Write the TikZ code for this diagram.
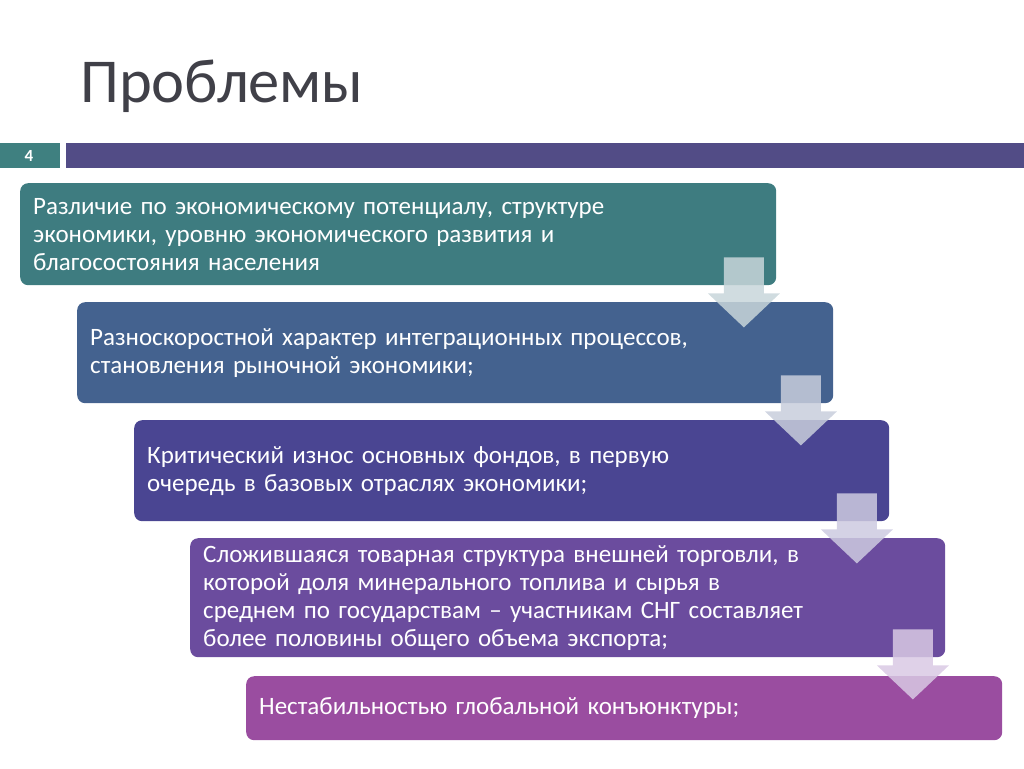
\documentclass[tikz,border=0pt]{standalone}
\usepackage{fontspec}
\setmainfont{Carlito}
\usepackage{tikz}
\usetikzlibrary{positioning}

\definecolor{titlegrey}{HTML}{404048}
\definecolor{barteal}{HTML}{3F8080}
\definecolor{barpurple}{HTML}{524C86}
\definecolor{boxa}{HTML}{3E7C80}
\definecolor{boxb}{HTML}{44628F}
\definecolor{boxc}{HTML}{4A4592}
\definecolor{boxd}{HTML}{6B4C9E}
\definecolor{boxe}{HTML}{9A4DA0}
\definecolor{arra}{HTML}{C8D6DA}
\definecolor{arrb}{HTML}{C8CEDC}
\definecolor{arrc}{HTML}{CDCAE0}
\definecolor{arrd}{HTML}{D9C9E4}

\tikzset{
  stepbox/.style={anchor=north west, rounded corners=8pt, inner xsep=13pt,
    inner ysep=0pt, text=white, align=left, font=\fontsize{25}{28}\selectfont,
    minimum width=#1, text width=#1-26pt},
  downarrow/.style={fill=#1, fill opacity=0.85, draw=none}
}

\begin{document}
\begin{tikzpicture}[x=1pt,y=-1pt]

\useasboundingbox (0,0) rectangle (1024,768);

\node[anchor=base west, text=titlegrey, font=\fontsize{62.5}{64}\selectfont,
  inner sep=0pt] (title) at (80,102) {Проблемы};

\fill[barteal] (0,143) rectangle (60,168);
\node[text=white, font=\bfseries\fontsize{17}{18}\selectfont] (num) at (29,155.5) {4};
\fill[barpurple] (66,143) rectangle (1024,168);

\node[stepbox=756pt, fill=boxa, minimum height=102pt] (b1) at (20,183)
  {Различие по экономическому потенциалу, структуре\\экономики, уровню экономического развития и\\благосостояния населения};
\node[stepbox=756pt, fill=boxb, minimum height=101pt] (b2) at (77,302)
  {Разноскоростной характер интеграционных процессов,\\становления рыночной экономики;};
\node[stepbox=755pt, fill=boxc, minimum height=101pt] (b3) at (134,420)
  {Критический износ основных фондов, в первую\\очередь в базовых отраслях экономики;};
\node[stepbox=755pt, fill=boxd, minimum height=119pt] (b4) at (190,538)
  {Сложившаяся товарная структура внешней торговли, в\\которой доля минерального топлива и сырья в\\среднем по государствам -- участникам СНГ составляет\\более половины общего объема экспорта;};
\node[stepbox=756pt, fill=boxe, minimum height=64pt] (b5) at (246,676)
  {Нестабильностью глобальной конъюнктуры;};

% arrows from box to box
\foreach \a/\b/\c in {b1/b2/arra, b2/b3/arrb, b3/b4/arrc, b4/b5/arrd} {
  \coordinate (top-\a) at ([xshift=-32.5pt,yshift=28pt]\a.south east);
  \fill[downarrow=\c] (top-\a) ++(-20,0) -- ++(40,0) -- ++(0,36) -- ++(16,0)
    -- ++(-36,34) -- ++(-36,-34) -- ++(16,0) -- cycle;
}

\end{tikzpicture}
\end{document}
